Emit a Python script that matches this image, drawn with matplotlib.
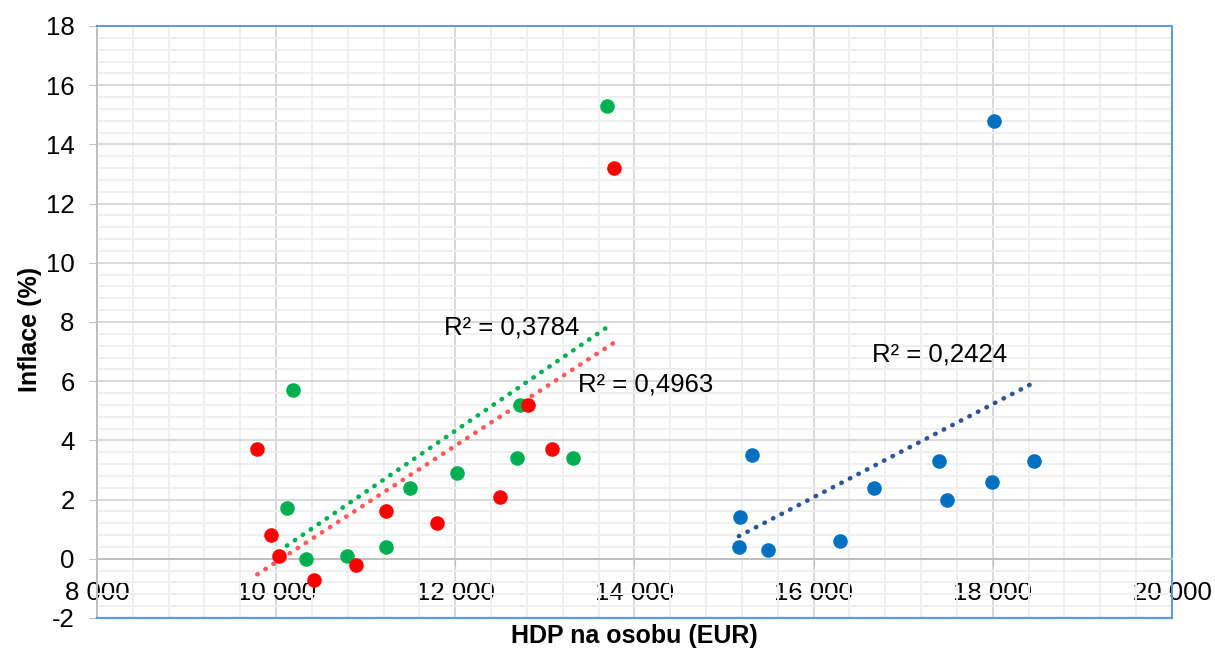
# HDP vs inflace scatter
import numpy as np
import matplotlib
matplotlib.use("Agg")
import matplotlib.pyplot as plt
from matplotlib.ticker import MultipleLocator, FuncFormatter

# data
green_x = [13690, 10190, 10120, 10330, 10790, 11225, 11490, 12020, 12720, 12690, 13310]
green_y = [15.3, 5.7, 1.7, 0.0, 0.1, 0.4, 2.4, 2.9, 5.2, 3.4, 3.4]
red_x = [13770, 9790, 9940, 10030, 10420, 10890, 11225, 11795, 12500, 12810, 13080]
red_y = [13.2, 3.7, 0.8, 0.1, -0.7, -0.2, 1.6, 1.2, 2.1, 5.2, 3.7]
blue_x = [18010, 15310, 15175, 15165, 15490, 16290, 16670, 17400, 17490, 17990, 18460]
blue_y = [14.8, 3.5, 1.4, 0.4, 0.3, 0.6, 2.4, 3.3, 2.0, 2.6, 3.3]
r2_labels = ["R² = 0,3784", "R² = 0,4963", "R² = 0,2424"]

plt.rcParams['font.family'] = ['Liberation Sans', 'DejaVu Sans']
fs = 18.5

fig = plt.figure(figsize=(12.15, 6.53), dpi=100)
ax = fig.add_axes([0.0798, 0.0536, 0.8848, 0.9066])

# trendlines (linear fit)
def trend(x, y, color):
    k, q = np.polyfit(x, y, 1)
    xs = np.array([min(x), max(x)])
    ax.plot(xs, k * xs + q, color=color, lw=3.3, linestyle=(0, (0.1, 2.0)),
            dash_capstyle='round', zorder=3)

trend(green_x, green_y, "#00B050")
trend(red_x, red_y, "#FF5B5B")
trend(blue_x, blue_y, "#2F5597")

s = 110
ax.scatter(green_x, green_y, s=s, color="#00B050", zorder=4, linewidths=0)
ax.scatter(red_x, red_y, s=s, color="#FF0000", zorder=4, linewidths=0)
ax.scatter(blue_x, blue_y, s=s, color="#0070C0", zorder=4, linewidths=0)

ax.text(11873, 7.8, r2_labels[0], fontsize=fs, ha='left', va='center', zorder=5)
ax.text(13368, 5.88, r2_labels[1], fontsize=fs, ha='left', va='center', zorder=5)
ax.text(16650, 6.9, r2_labels[2], fontsize=fs, ha='left', va='center', zorder=5)

# axes
ax.set_xlim(8000, 20000)
ax.set_ylim(-2, 18)
ax.xaxis.set_major_locator(MultipleLocator(2000))
ax.xaxis.set_minor_locator(MultipleLocator(400))
ax.yaxis.set_major_locator(MultipleLocator(2))
ax.yaxis.set_minor_locator(MultipleLocator(0.4))
ax.xaxis.set_major_formatter(FuncFormatter(lambda v, p: f"{v:,.0f}".replace(",", " ")))
ax.yaxis.set_major_formatter(FuncFormatter(lambda v, p: f"{v:.0f}"))

ax.grid(which='major', color="#D9D9D9", lw=1.4, zorder=1)
ax.grid(which='minor', color="#EFEFEF", lw=1.4, zorder=0)
ax.set_axisbelow(True)

ax.spines['bottom'].set_position(('data', 0))
ax.spines['bottom'].set_color("#BFBFBF")
ax.spines['bottom'].set_linewidth(1.4)
ax.spines['left'].set_color("#BFBFBF")
ax.spines['left'].set_linewidth(1.4)
for side in ['top', 'right']:
    ax.spines[side].set_color("#5B9BD5")
    ax.spines[side].set_linewidth(1.4)
# bottom frame line at -2
ax.plot([0, 1], [0, 0], transform=ax.transAxes, color="#5B9BD5", lw=1.6, clip_on=False, zorder=5)

ax.tick_params(axis='x', which='major', direction='out', length=5, color="#BFBFBF",
               labelsize=fs, pad=11)
ax.tick_params(axis='y', which='major', direction='out', length=6, color="#BFBFBF",
               labelsize=fs, pad=10)
ax.tick_params(which='minor', length=0)

fig.text(0.025, 0.495, "Inflace (%)", rotation=90, fontsize=18, fontweight='bold',
         ha='center', va='center')
fig.text(0.522, 0.026, "HDP na osobu (EUR)", fontsize=18, fontweight='bold',
         ha='center', va='center')

fig.savefig("out.png", dpi=100)
